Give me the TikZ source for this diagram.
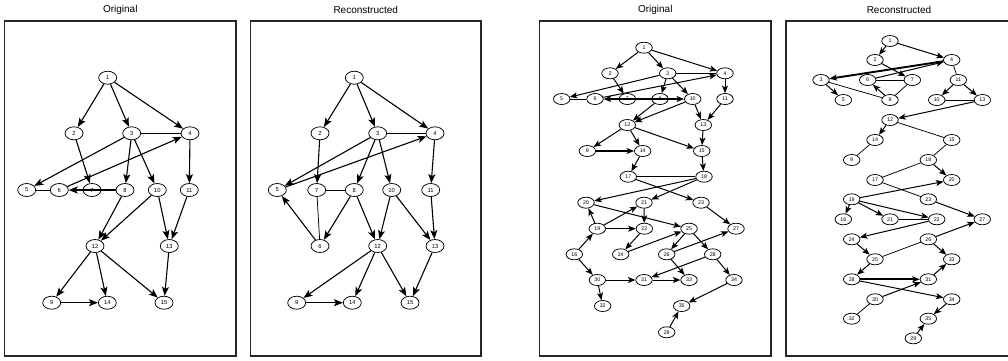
\documentclass[tikz,border=0pt]{standalone}
\usepackage{fontspec}
\setmainfont{Liberation Sans}
\usetikzlibrary{shapes.geometric,arrows.meta}
\begin{document}
\begin{tikzpicture}[x=1pt,y=-1pt,
 vtx/.style={ellipse,draw=black,line width=0.75pt,fill=white,inner sep=0pt,minimum width=18pt,minimum height=13pt,font=\fontsize{5.8}{6}\selectfont},
 svtx/.style={vtx,minimum width=16.5pt,minimum height=11pt,font=\fontsize{5.3}{6}\selectfont},
 arr/.style={line width=1.1pt,-{Stealth[length=9pt,width=7pt,inset=2pt]}},
 sarr/.style={line width=1pt,-{Stealth[length=7.5pt,width=6pt,inset=1.8pt]}},
 thk/.style={line width=1.9pt},
 ln/.style={line width=0.75pt},
 frame/.style={draw=black!85,line width=1.2pt},
 ttl/.style={font=\fontsize{10}{12}\selectfont}]
\useasboundingbox (0,0) rectangle (1008,360);
\fill[white] (0,0) rectangle (1008,360);
% frames and titles
\draw[frame] (4.5,21) rectangle (236,356);
\draw[frame] (250.5,21) rectangle (481,356);
\draw[frame] (539.5,21) rectangle (771,356);
\draw[frame] (786,21) rectangle (1017,356);
\node[ttl] (t1) at (120.25,10) {Original};
\node[ttl] (t2) at (365.75,10) {Reconstructed};
\node[ttl] (t3) at (655.25,10) {Original};
\node[ttl] (t4) at (899,10) {Reconstructed};
% panel 1 nodes
\foreach \n/\x/\y in {1/107.7/77.7,2/74/133.3,3/131.7/133.3,4/190/133.3,5/26.7/190,6/59.3/190,7/92/190,8/125/190,10/157.3/190,11/189.3/190,12/95/246,13/169.3/246,9/51.7/302.7,14/107.3/302.7,15/164/302.7}
  \node[vtx] (a\n) at (\x,\y) {\n};
% panel 2 nodes
\foreach \n/\x/\y in {1/354.3/77.7,2/320/133.3,3/377.7/133.3,4/435/133.3,5/277.3/190,7/316.7/190,8/354.3/190,10/391.7/190,11/430.7/190,6/320/246,12/377.7/246,13/435/246,9/296.7/302.7,14/352.3/302.7,15/410/302.7}
  \node[vtx] (b\n) at (\x,\y) {\n};
% panel 3 nodes
\foreach \n/\x/\y in {1/644/47.7,2/610/73.3,3/667.7/73.3,4/725/73.3,5/561.7/99,6/595/99,7/627.3/99,8/660/99,10/692.7/99,11/725/99,12/627.3/125,13/703.3/125,9/587.3/151,14/642.7/151,15/701.7/151,17/628.3/176.7,18/704/176.7,20/586/202.7,21/644/202.7,23/701/202.7,19/597.3/228.7,22/644.3/228.7,25/689/228.7,27/736/228.7,16/574.3/254.3,24/620.7/254.3,26/666.7/254.3,28/712.7/254.3,30/597.3/280,31/644/280,33/689/280,34/734/280,32/602.7/306,35/681.7/306,29/666.7/332.3}
  \node[svtx] (c\n) at (\x,\y) {\n};
% panel 4 nodes
\foreach \n/\x/\y in {1/890/41,2/875/60,4/951.7/60,3/821/80,6/867.7/80,7/912.3/80,11/958.3/80,5/843.3/100,8/890/100,10/936.7/100,13/982.3/100,12/890/120,14/875/140,15/951.7/140,9/851.7/160,18/928.3/160,17/875/180,20/951.7/180,19/851.7/199.3,23/928.3/199.3,16/843.3/219.3,21/890/219.3,22/936.7/219.3,27/982.3/219.3,24/851.7/239.3,26/928.3/239.3,25/875/259.3,33/951.7/259.3,28/851.7/279.3,31/928.3/279.3,30/875/299.3,34/951.7/299.3,32/851.7/318.7,35/928.3/318.7,29/913.3/338.3}
  \node[svtx] (d\n) at (\x,\y) {\n};
% panel 1 edges
\foreach \s/\t in {1/2,1/3,1/4,6/4,3/5,2/7,3/8,3/10,4/11,8/12,10/12,10/13,11/13,12/9,12/14,12/15,9/14,13/15}
  \draw[arr] (a\s) -- (a\t);
\draw[arr,thk] (a8) -- (a6);
\foreach \s/\t in {3/4,5/6}
  \draw[ln] (a\s) -- (a\t);
% panel 2 edges
\foreach \s/\t in {1/2,1/3,1/4,5/4,3/5,2/7,3/8,3/10,4/11,6/5,8/6,8/12,10/12,10/13,11/13,12/9,12/14,12/15,9/14,13/15}
  \draw[arr] (b\s) -- (b\t);
\foreach \s/\t in {3/4,7/8,7/6}
  \draw[ln] (b\s) -- (b\t);
% panel 3 edges
\foreach \s/\t in {1/2,1/3,1/4,6/4,3/5,2/7,3/8,3/10,4/11,8/12,10/12,10/13,11/13,12/9,12/14,12/15,13/15,14/17,15/18,18/20,18/21,17/23,20/25,19/20,19/21,21/22,19/22,16/19,16/30,22/24,24/25,25/26,25/28,26/27,23/27,26/33,28/31,30/31,31/33,30/32,28/34,34/35,29/35}
  \draw[sarr] (c\s) -- (c\t);
\foreach \s/\t in {9/14,8/6,7/10}
  \draw[sarr,thk] (c\s) -- (c\t);
\foreach \s/\t in {3/4,5/6,17/18}
  \draw[ln] (c\s) -- (c\t);
% panel 4 edges
\foreach \s/\t in {1/2,1/4,2/7,6/4,3/5,8/6,11/10,11/13,13/12,12/14,18/20,19/20,19/21,19/22,19/16,23/27,22/24,26/27,24/25,26/33,25/28,30/31,31/33,28/34,34/35,29/35}
  \draw[sarr] (d\s) -- (d\t);
\foreach \s/\t in {4/3,28/31}
  \draw[sarr,thk] (d\s) -- (d\t);
\foreach \s/\t in {6/7,3/8,8/7,4/11,10/13,12/15,14/9,15/18,18/17,17/23,21/22,25/26,30/32}
  \draw[ln] (d\s) -- (d\t);
\end{tikzpicture}
\end{document}
